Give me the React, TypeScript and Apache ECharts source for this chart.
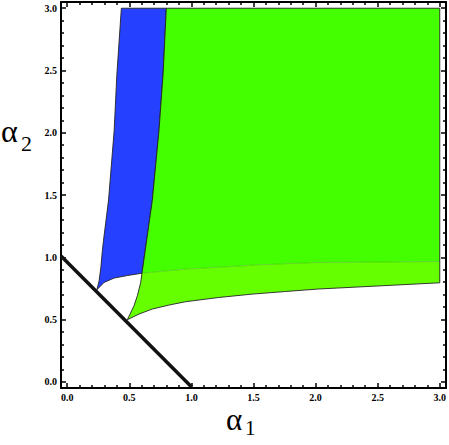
import React, { useEffect, useRef } from "react";
import * as echarts from "echarts";

// Region boundaries (alpha1, alpha2)
const blueLeft = [
  [0.239, 0.739], [0.257, 0.811], [0.271, 0.918], [0.283, 1.052], [0.292, 1.133],
  [0.333, 1.46], [0.378, 2.016], [0.40, 2.47], [0.436, 3.0],
];
const blueGreenBorder = [
  [0.602, 0.872], [0.605, 0.892], [0.685, 1.454], [0.739, 2.016], [0.772, 2.47], [0.798, 3.0],
];
const blueBottom = [
  [0.239, 0.739], [0.297, 0.798], [0.378, 0.833], [0.484, 0.853], [0.602, 0.872],
];
const greenSplit = [
  [0.602, 0.872], [0.953, 0.905], [1.301, 0.924], [1.488, 0.937], [2.024, 0.958], [3.0, 0.966],
];
const greenLeftLower = [
  [0.484, 0.498], [0.538, 0.61], [0.565, 0.691], [0.592, 0.798], [0.602, 0.872],
];
const greenBottom = [
  [0.484, 0.498], [0.578, 0.544], [0.685, 0.584], [0.819, 0.616], [0.953, 0.643],
  [1.221, 0.677], [1.488, 0.704], [1.757, 0.725], [2.024, 0.745], [3.0, 0.795],
];
const topY = 3.0;
const rightX = 3.0;

const lineX = [-0.05, 1.0];
const lineY = [1.01, -0.04];

const majorTicks = [0, 0.5, 1.0, 1.5, 2.0, 2.5, 3.0];
const minorTicks = [
  0.1, 0.2, 0.3, 0.4, 0.6, 0.7, 0.8, 0.9, 1.1, 1.2, 1.3, 1.4, 1.6, 1.7, 1.8, 1.9,
  2.1, 2.2, 2.3, 2.4, 2.6, 2.7, 2.8, 2.9,
];
const axisMin = -0.05;
const axisMax = 3.05;

const BLUE = "#2640ff";
const GREEN_DARK = "#44ff00";
const GREEN_LIGHT = "#66ff00";

function buildRegions() {
  const rev = (a: number[][]) => a.slice().reverse();
  const blue = [
    ...blueLeft,
    ...rev(blueGreenBorder),
    ...rev(blueBottom).slice(1),
  ];
  const dark = [
    ...blueGreenBorder,
    [rightX, topY],
    ...rev(greenSplit),
  ];
  const light = [
    ...greenLeftLower,
    ...greenSplit.slice(1),
    ...rev(greenBottom),
  ];
  const greenOutline = [
    ...greenLeftLower,
    ...blueGreenBorder.slice(1),
    [rightX, topY],
    ...rev(greenBottom),
  ];
  return [
    { pts: blue, fill: BLUE, stroke: "#222", lw: 0.9 },
    { pts: dark, fill: GREEN_DARK, stroke: null, lw: 0 },
    { pts: light, fill: GREEN_LIGHT, stroke: null, lw: 0 },
    { pts: greenSplit, fill: null, stroke: "rgba(40,140,0,0.45)", lw: 0.8, open: true },
    { pts: greenOutline, fill: null, stroke: "#222", lw: 0.9 },
  ];
}

const FONT = "'Liberation Serif', 'Times New Roman', serif";

export default function App() {
  const ref = useRef<HTMLDivElement>(null);
  useEffect(() => {
    if (!ref.current) return;
    const chart = echarts.init(ref.current, null, { renderer: "svg" });
    const regions = buildRegions();
    const mkX = (pos: string, ticks: number[], len: number, labels: boolean, line: boolean) => ({
      type: "value",
      min: axisMin,
      max: axisMax,
      position: pos,
      axisLine: { show: line, onZero: false, lineStyle: { color: "#000", width: 2 } },
      axisTick: { show: true, inside: true, length: len, customValues: ticks, lineStyle: { color: "#000", width: 1.5 } },
      axisLabel: labels
        ? {
            show: true,
            customValues: majorTicks,
            formatter: (v: number) => v.toFixed(1),
            fontFamily: FONT,
            fontWeight: "bold",
            fontSize: 10,
            color: "#000",
            margin: 4,
          }
        : { show: false },
      splitLine: { show: false },
    });
    chart.setOption({
      animation: false,
      backgroundColor: "#fff",
      grid: { left: 61, right: 2, top: 2, bottom: 57, containLabel: false },
      xAxis: [
        mkX("bottom", majorTicks, 5, true, true),
        mkX("bottom", minorTicks, 3, false, false),
        mkX("top", majorTicks, 5, false, true),
        mkX("top", minorTicks, 3, false, false),
      ],
      yAxis: [
        mkX("left", majorTicks, 5, true, true),
        mkX("left", minorTicks, 3, false, false),
        mkX("right", majorTicks, 5, false, true),
        mkX("right", minorTicks, 3, false, false),
      ],
      series: [
        {
          type: "custom",
          xAxisIndex: 0,
          yAxisIndex: 0,
          data: regions.map((_, i) => [i]),
          renderItem: (params: any, api: any) => {
            const r = regions[params.dataIndex];
            const points = r.pts.map((p: number[]) => api.coord(p));
            if (r.open) {
              return {
                type: "polyline",
                shape: { points },
                style: { fill: null, stroke: r.stroke, lineWidth: r.lw },
              };
            }
            return {
              type: "polygon",
              shape: { points },
              style: {
                fill: r.fill || "none",
                stroke: r.stroke || "none",
                lineWidth: r.lw,
              },
            };
          },
        },
        {
          type: "line",
          xAxisIndex: 0,
          yAxisIndex: 0,
          data: lineX.map((x, i) => [x, lineY[i]]),
          showSymbol: false,
          symbol: "none",
          lineStyle: { color: "#111", width: 3.5 },
          z: 5,
        },
      ],
      graphic: [
        { type: "text", x: 226, y: 435, style: { text: "α", fontFamily: FONT, fontSize: 31, fill: "#000", verticalAlign: "bottom" } },
        { type: "text", x: 245, y: 438, style: { text: "1", fontFamily: FONT, fontSize: 21, fill: "#000", verticalAlign: "bottom" } },
        { type: "text", x: 1, y: 147, style: { text: "α", fontFamily: FONT, fontSize: 32, fill: "#000", verticalAlign: "bottom" } },
        { type: "text", x: 21, y: 154, style: { text: "2", fontFamily: FONT, fontSize: 22, fill: "#000", verticalAlign: "bottom" } },
      ],
    });
    return () => chart.dispose();
  }, []);
  return <div ref={ref} style={{ width: 449, height: 445, position: "absolute", left: 0, top: 0 }} />;
}
